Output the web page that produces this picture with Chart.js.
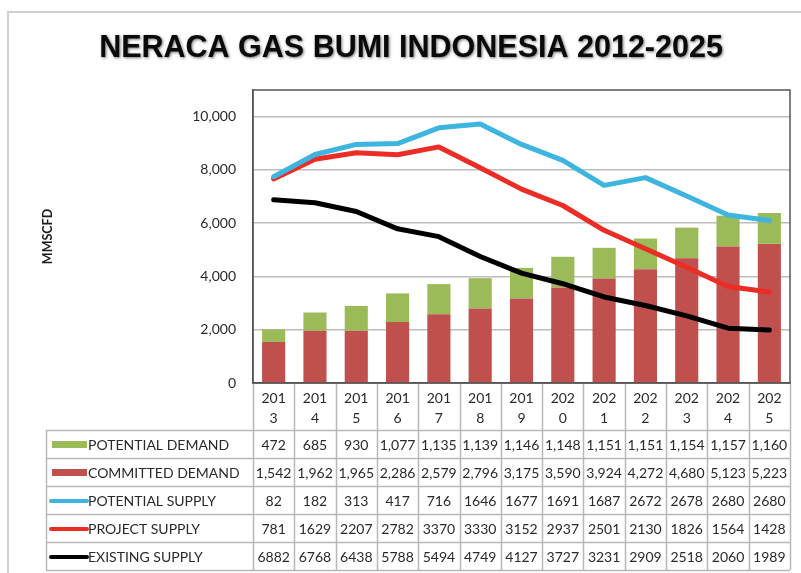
<!DOCTYPE html>
<html>
<head>
<meta charset="utf-8">
<script src="https://cdn.jsdelivr.net/npm/chart.js@4"></script>
<style>
  html, body { margin: 0; padding: 0; background: #fff; }
  canvas { display: block; }
</style>
</head>
<body>
<canvas id="gas" width="801" height="573"></canvas>
<script>
var chartTitle = 'NERACA GAS BUMI INDONESIA 2012-2025';
var years = ['2013','2014','2015','2016','2017','2018','2019','2020','2021','2022','2023','2024','2025'];

var potentialDemand = [472, 685, 930, 1077, 1135, 1139, 1146, 1148, 1151, 1151, 1154, 1157, 1160];
var committedDemand = [1542, 1962, 1965, 2286, 2579, 2796, 3175, 3590, 3924, 4272, 4680, 5123, 5223];
var potentialSupply = [82, 182, 313, 417, 716, 1646, 1677, 1691, 1687, 2672, 2678, 2680, 2680];
var projectSupply = [781, 1629, 2207, 2782, 3370, 3330, 3152, 2937, 2501, 2130, 1826, 1564, 1428];
var existingSupply = [6882, 6768, 6438, 5788, 5494, 4749, 4127, 3727, 3231, 2909, 2518, 2060, 1989];

var yTicks = [0, 2000, 4000, 6000, 8000, 10000];

// the supply lines in the original sit on top of each other
var projectLine = existingSupply.map(function(v, i) { return v + projectSupply[i]; });
var potentialLine = projectLine.map(function(v, i) { return v + potentialSupply[i]; });

var COL = {
    pd: '#9bbb59',
    cd: '#c0504d',
    ps: '#3db5e0',
    prs: '#ec2d25',
    es: '#000000'
};

var labelFont = "Lato, 'Open Sans', sans-serif";

// labels wrap after three chars like in the excel table
var xLabels = years.map(function(y) { return [y.slice(0, 3), y.slice(3)]; });

var commas = function(v) { return v.toLocaleString('en-US'); };
var plain = function(v) { return String(v); };

var rows = [
    { label: 'POTENTIAL DEMAND', values: potentialDemand, color: COL.pd, kind: 'bar', fmt: commas },
    { label: 'COMMITTED DEMAND', values: committedDemand, color: COL.cd, kind: 'bar', fmt: commas },
    { label: 'POTENTIAL SUPPLY', values: potentialSupply, color: COL.ps, kind: 'line', fmt: plain },
    { label: 'PROJECT SUPPLY', values: projectSupply, color: COL.prs, kind: 'line', fmt: plain },
    { label: 'EXISTING SUPPLY', values: existingSupply, color: COL.es, kind: 'line', fmt: plain }
];

var tableTop = 430, rowH = 28, tableLeft = 46;
var gridCol = '#b8b8b8';

var frameAndTable = {
    id: 'frameAndTable',
    beforeDraw: function(chart) {
        var ctx = chart.ctx;
        ctx.save();
        ctx.fillStyle = '#fff';
        ctx.fillRect(0, 0, chart.width, chart.height);
        ctx.strokeStyle = '#d0d0d0';
        ctx.lineWidth = 2;
        ctx.beginPath();
        ctx.moveTo(chart.width, 12);
        ctx.lineTo(8, 12);
        ctx.lineTo(8, chart.height);
        ctx.stroke();

        // title with the soft dark glow of the original
        ctx.font = "bold 30.5px 'Liberation Sans', Arial, sans-serif";
        ctx.textAlign = 'center';
        ctx.textBaseline = 'middle';
        ctx.shadowColor = 'rgba(0,0,0,0.55)';
        ctx.shadowBlur = 3;
        ctx.shadowOffsetX = 1;
        ctx.shadowOffsetY = 1;
        ctx.fillStyle = '#0a0a0a';
        ctx.fillText(chartTitle, 411, 49);
        ctx.restore();
    },
    beforeDatasetsDraw: function(chart) {
        var a = chart.chartArea, ctx = chart.ctx;
        ctx.save();
        ctx.strokeStyle = '#555';
        ctx.lineWidth = 1.5;
        ctx.strokeRect(a.left, a.top, a.right - a.left, a.bottom - a.top);
        ctx.restore();
    },
    afterDraw: function(chart) {
        var a = chart.chartArea, ctx = chart.ctx;
        var x = chart.scales.x;
        var n = years.length;
        var colW = (a.right - a.left) / n;
        var bottom = tableTop + rows.length * rowH;
        ctx.save();
        ctx.strokeStyle = gridCol;
        ctx.lineWidth = 1.5;
        ctx.beginPath();
        for (var i = 0; i <= n; i++) {
            var cx = Math.round(a.left + i * colW) + 0.5;
            ctx.moveTo(cx, a.bottom + 1);
            ctx.lineTo(cx, bottom);
        }
        for (var r = 0; r <= rows.length; r++) {
            var ry = tableTop + r * rowH + 0.5;
            ctx.moveTo(tableLeft, ry);
            ctx.lineTo(a.right, ry);
        }
        ctx.moveTo(tableLeft + 0.5, tableTop);
        ctx.lineTo(tableLeft + 0.5, bottom);
        ctx.stroke();

        ctx.textBaseline = 'middle';
        rows.forEach(function(row, r) {
            var cy = tableTop + r * rowH + rowH / 2 + 1;
            if (row.kind === 'bar') {
                ctx.fillStyle = row.color;
                ctx.fillRect(52, cy - 4, 35, 7);
            } else {
                ctx.strokeStyle = row.color;
                ctx.lineWidth = 4;
                ctx.lineCap = 'round';
                ctx.beginPath();
                ctx.moveTo(51, cy);
                ctx.lineTo(87, cy);
                ctx.stroke();
            }
            ctx.fillStyle = '#2a2a2a';
            ctx.textAlign = 'left';
            ctx.font = '14px ' + labelFont;
            ctx.fillText(row.label, 88, cy);
            ctx.textAlign = 'center';
            row.values.forEach(function(v, i) {
                ctx.fillText(row.fmt(v), x.getPixelForValue(i), cy, colW - 1);
            });
        });
        ctx.restore();
    }
};

new Chart(document.getElementById('gas'), {
    type: 'bar',
    data: {
        labels: xLabels,
        datasets: [
            {
                type: 'line', label: 'POTENTIAL SUPPLY', data: potentialLine, stack: 'ps',
                borderColor: COL.ps, borderWidth: 5, pointRadius: 0, tension: 0,
                borderCapStyle: 'round', borderJoinStyle: 'round', fill: false
            },
            {
                type: 'line', label: 'PROJECT SUPPLY', data: projectLine, stack: 'prs',
                borderColor: COL.prs, borderWidth: 5, pointRadius: 0, tension: 0,
                borderCapStyle: 'round', borderJoinStyle: 'round', fill: false
            },
            {
                type: 'line', label: 'EXISTING SUPPLY', data: existingSupply, stack: 'es',
                borderColor: COL.es, borderWidth: 5, pointRadius: 0, tension: 0,
                borderCapStyle: 'round', borderJoinStyle: 'round', fill: false
            },
            {
                label: 'COMMITTED DEMAND', data: committedDemand, stack: 'demand',
                backgroundColor: COL.cd, barPercentage: 0.56, categoryPercentage: 1
            },
            {
                label: 'POTENTIAL DEMAND', data: potentialDemand, stack: 'demand',
                backgroundColor: COL.pd, barPercentage: 0.56, categoryPercentage: 1
            }
        ]
    },
    options: {
        responsive: false,
        animation: false,
        layout: { padding: { left: 40, right: 11, top: 90, bottom: 0 } },
        plugins: {
            legend: { display: false },
            tooltip: { enabled: false },
            title: { display: false }
        },
        scales: {
            x: {
                stacked: true,
                grid: { display: false, drawTicks: false },
                border: { display: true, color: '#555', width: 1.5 },
                ticks: {
                    color: '#2a2a2a', padding: 5, maxRotation: 0, autoSkip: false,
                    font: { family: labelFont, size: 14, lineHeight: 1.45 }
                },
                afterFit: function(scale) { scale.height = 573 - 383; }
            },
            y: {
                stacked: true,
                min: 0,
                max: 11000,
                afterBuildTicks: function(axis) {
                    axis.ticks = yTicks.map(function(v) { return { value: v }; });
                },
                afterFit: function(scale) { scale.width = 253 - 40; },
                grid: { color: '#bdbdbd', lineWidth: 1.5, drawTicks: false },
                border: { display: true, color: '#555', width: 1.5 },
                ticks: {
                    color: '#2a2a2a', padding: 17,
                    font: { family: labelFont, size: 14 },
                    callback: function(v) { return v.toLocaleString('en-US'); }
                },
                title: {
                    display: true, text: 'MMSCFD', color: '#1a1a1a', padding: 0,
                    font: { family: labelFont, size: 12.5, weight: 'bold' }
                }
            }
        }
    },
    plugins: [frameAndTable]
});
</script>
</body>
</html>
